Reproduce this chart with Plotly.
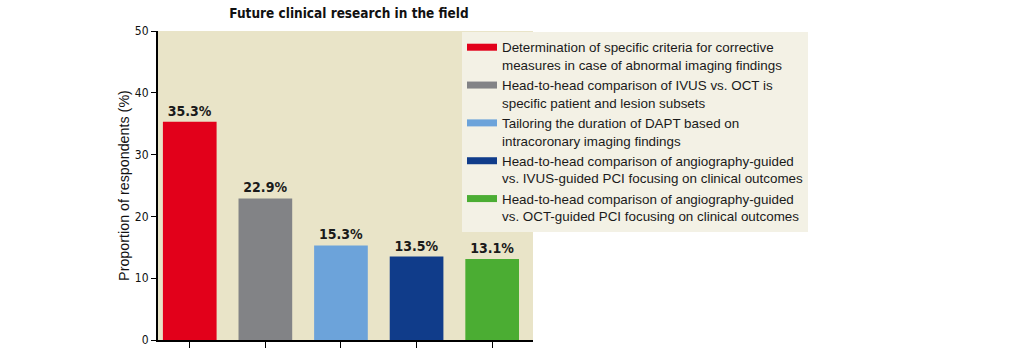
import plotly.graph_objects as go

categories = ["A", "B", "C", "D", "E"]
values = [35.3, 22.9, 15.3, 13.5, 13.1]
value_labels = ["35.3%", "22.9%", "15.3%", "13.5%", "13.1%"]
legend_names = [
    "Determination of specific criteria for corrective<br>measures in case of abnormal imaging findings",
    "Head-to-head comparison of IVUS vs. OCT is<br>specific patient and lesion subsets",
    "Tailoring the duration of DAPT based on<br>intracoronary imaging findings",
    "Head-to-head comparison of angiography-guided<br>vs. IVUS-guided PCI focusing on clinical outcomes",
    "Head-to-head comparison of angiography-guided<br>vs. OCT-guided PCI focusing on clinical outcomes",
]
colors = ["#E2001A", "#828386", "#6CA3DA", "#103C8A", "#4BAD33"]
y_ticks = [0, 10, 20, 30, 40, 50]

NARROW = "DejaVu Sans Condensed, Arial Narrow, sans-serif"
REG = "Liberation Sans, Arial, sans-serif"

fig = go.Figure()
fig.add_trace(go.Bar(
    x=categories, y=values, marker=dict(color=colors, line=dict(width=0)),
    text=["<b>%s</b>" % t for t in value_labels], textposition="outside", cliponaxis=False,
    textfont=dict(family=NARROW, size=14, color="#1a1a1a"),
    showlegend=False, width=0.71,
))
for name, c in zip(legend_names, colors):
    fig.add_trace(go.Scatter(
        x=[None], y=[None], mode="lines", name=name,
        line=dict(color=c, width=7), showlegend=True,
    ))

fig.update_layout(
    width=1033, height=354,
    margin=dict(l=158, r=500, t=31, b=14),
    paper_bgcolor="white",
    plot_bgcolor="#E9E4C8",
    title=dict(text="<b>Future clinical research in the field</b>",
               font=dict(family=NARROW, size=13.5, color="#111"),
               x=349 / 1033, xanchor="center", y=0.962, yanchor="middle"),
    legend=dict(
        x=(462 - 158) / 375, xanchor="left",
        y=(340 - 32) / 309, yanchor="top",
        bgcolor="#F3F1E5", borderwidth=0,
        font=dict(family=REG, size=13.4, color="#1a1a1a"),
        valign="top", tracegroupgap=0,
    ),
    xaxis=dict(
        range=[-0.42, 4.54], showgrid=False, showticklabels=False,
        showline=True, linecolor="black", linewidth=2,
        ticks="outside", ticklen=6, tickcolor="black", tickwidth=1,
        zeroline=False, automargin=False,
    ),
    yaxis=dict(
        range=[0, 50], tickvals=y_ticks, showgrid=False,
        showline=True, linecolor="black", linewidth=2,
        ticks="outside", ticklen=5, tickcolor="black", tickwidth=1,
        tickfont=dict(family=NARROW, size=12, color="#111"),
        title=dict(text="Proportion of respondents (%)",
                   font=dict(family=REG, size=14.3, color="#111"), standoff=2),
        zeroline=False, automargin=False,
    ),
)

fig.write_html("out.html")
